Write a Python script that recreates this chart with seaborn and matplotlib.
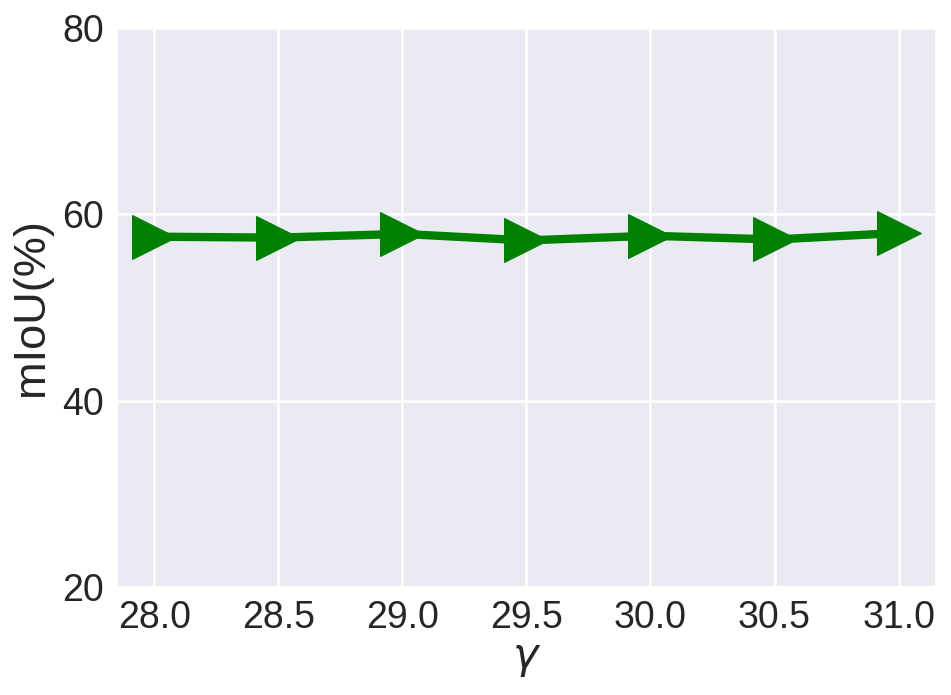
import numpy as np
import pandas as pd
import matplotlib
matplotlib.use('Agg')
import matplotlib.pyplot as plt
import seaborn as sns

# Data
gamma = [28.0, 28.5, 29.0, 29.5, 30.0, 30.5, 31.0]
miou = [57.6, 57.5, 57.9, 57.2, 57.7, 57.3, 58.0]
y_ticks = [20, 40, 60, 80]

df = pd.DataFrame({'gamma': gamma, 'miou': miou})

sns.set_theme(style='darkgrid')
plt.rcParams['font.family'] = ['Liberation Sans', 'DejaVu Sans']
plt.rcParams['mathtext.fontset'] = 'dejavusans'

fig = plt.figure(figsize=(9.51, 6.95), dpi=100)
ax = fig.add_axes([0.123, 0.1554, 0.861, 0.8043])

sns.lineplot(data=df, x='gamma', y='miou', ax=ax, color='green',
             linewidth=6, marker='>', markersize=31,
             markeredgecolor='green')

ax.set_ylim(20, 80)
ax.set_yticks(y_ticks)
ax.set_xticks(gamma)
ax.set_xticklabels([f'{g:.1f}' for g in gamma])
ax.tick_params(labelsize=27, colors='.15')
ax.grid(linewidth=1.8)
ax.set_xlabel(r'$\gamma$', fontsize=31, labelpad=2)
ax.set_ylabel('mIoU(%)', fontsize=32.5, labelpad=7)

fig.savefig('out.png', dpi=100)
